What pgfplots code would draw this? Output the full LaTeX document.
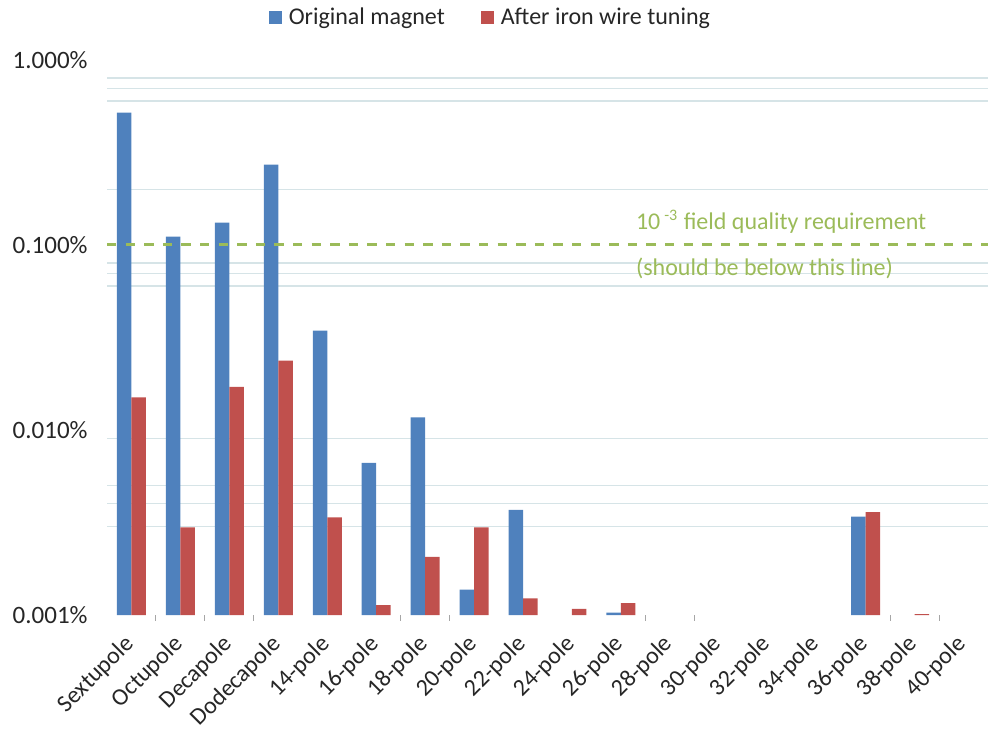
\documentclass[border=0pt]{standalone}
\usepackage{fontspec}
\setmainfont{Carlito}
\usepackage{pgfplots}
\pgfplotsset{compat=1.18}

\definecolor{origblue}{RGB}{79,129,189}
\definecolor{tunedred}{RGB}{192,80,77}
\definecolor{reqgreen}{RGB}{155,187,89}
\definecolor{gridc}{RGB}{214,228,231}
\definecolor{txt}{RGB}{38,38,38}

% multipole content, in % of the main field
\pgfplotstableread{
x  val
0  0.52
1  0.111
2  0.132
3  0.272
4  0.0344
5  0.00665
6  0.0117
7  0.00137
8  0.0037
10 0.00103
15 0.0034
}\original
\pgfplotstableread{
x  val
0  0.0150
1  0.00298
2  0.0171
3  0.0237
4  0.00337
5  0.00113
6  0.00206
7  0.00298
8  0.00123
9  0.00108
10 0.00116
15 0.0036
16 0.00101
}\tuned

\begin{document}
\begin{tikzpicture}
\begin{axis}[
  name=ax,
  scale only axis,
  width=440.5pt, height=277.5pt,
  ymode=log, log origin y=infty,
  ymin=0.001, ymax=1,
  xmin=-0.5, xmax=17.5,
  axis line style={draw=none},
  tick style={draw=none},
  tick pos=left,
  clip mode=individual,
  /pgf/number format/assume math mode=true,
  ytick={0.001,0.01,0.1,1},
  yticklabels={0.001\%,0.010\%,0.100\%,1.000\%},
  yticklabel style={font=\fontsize{12.5}{14}\selectfont, text=txt, inner sep=0pt},
  yticklabel shift=9.5pt,
  extra y ticks={0.8,0.7,0.6,0.2,0.08,0.07,0.06,0.009,0.005,0.004,0.003},
  extra y tick labels={},
  extra y tick style={grid=major, major grid style={gridc, line width=0.6pt}},
  xtick={0,...,17},
  xticklabels={Sextupole,Octupole,Decapole,Dodecapole,14-pole,16-pole,18-pole,20-pole,22-pole,24-pole,26-pole,28-pole,30-pole,32-pole,34-pole,36-pole,38-pole,40-pole},
  xticklabel style={font=\fontsize{12}{14}\selectfont, text=txt, rotate=45, anchor=east, inner sep=0pt, xshift=-9.1pt, yshift=-8.6pt},
  extra x ticks={0.5,1.5,2.5,5.5,6.5,10.5,11.5,15.5,16.5},
  extra x tick labels={},
  extra x tick style={tick style={draw=gray!70, line width=0.5pt}, major tick length=3pt, tick align=outside},
  legend columns=2,
  legend style={at={(rel axis cs:0.434,1.0757)}, anchor=center, draw=none, fill=none,
    font=\fontsize{12}{14}\selectfont, text=txt,
    /tikz/every even column/.append style={column sep=18pt},
    nodes={inner sep=0pt}},
]
\addplot[ybar, bar width=7.25pt, bar shift=-3.625pt, fill=origblue, draw=none,
  legend image code/.code={\fill[origblue] (0pt,-3.25pt) rectangle (6.5pt,3.25pt); \path (10pt,0pt);}]
  table[x=x, y=val] {\original};
\addlegendentry{Original magnet}
\addplot[ybar, bar width=7.25pt, bar shift=3.625pt, fill=tunedred, draw=none,
  legend image code/.code={\fill[tunedred] (0pt,-3.25pt) rectangle (6.5pt,3.25pt); \path (10pt,0pt);}]
  table[x=x, y=val] {\tuned};
\addlegendentry{After iron wire tuning}
% 1e-3 requirement
\addplot[reqgreen, line width=1.5pt, dash pattern=on 4.7pt off 4.6pt, sharp plot, forget plot]
  coordinates {(-0.5,0.1) (17.5,0.1)};
\node[anchor=west, text=reqgreen, inner sep=0pt, font=\fontsize{12}{14}\selectfont]
  at (axis cs:10.3,0.133) {10\,\textsuperscript{-3} field quality requirement};
\node[anchor=west, text=reqgreen, inner sep=0pt, font=\fontsize{12}{14}\selectfont]
  at (axis cs:10.3,0.0752) {(should be below this line)};
\end{axis}
\pgfresetboundingbox
\path[use as bounding box] ([shift={(-53.5pt,-57.5pt)}]ax.south west) rectangle ([shift={(0pt,30pt)}]ax.north east);
\end{tikzpicture}
\end{document}
